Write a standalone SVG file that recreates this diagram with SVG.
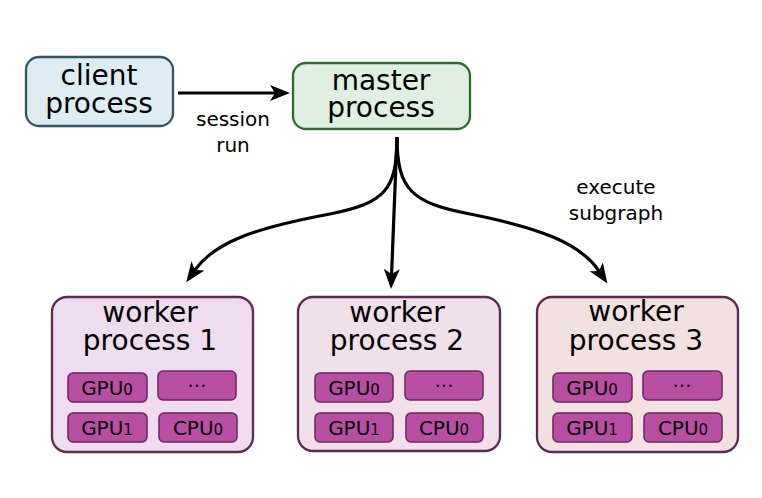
<svg xmlns="http://www.w3.org/2000/svg" width="762" height="498" viewBox="0 0 762 498">
<style>
text { font-family: "DejaVu Sans", Verdana, sans-serif; fill: #000; text-anchor: middle; }
.title { font-size: 28px; }
.label { font-size: 20px; }
.chip-t { font-size: 20px; }
.sub { font-size: 15px; }
.box { stroke-width: 2.3; }
.client { fill: #deedf3; stroke: #2f5566; }
.master { fill: #dff0e0; stroke: #2d6a30; }
.worker { stroke: #5c2a55; stroke-width: 2.3; }
.w1 { fill: #efdcef; }
.w2 { fill: #f1dfe9; }
.w3 { fill: #f3e1e1; }
.chip { fill: #b94fa2; stroke: #6a2660; stroke-width: 1.5; }
.conn { fill: none; stroke: #000; stroke-width: 3.2; }
</style>
<defs>
<marker id="arrow" markerUnits="userSpaceOnUse" viewBox="0 -9 20 18" markerWidth="20" markerHeight="18" refX="5" refY="0" orient="auto">
<path d="M0,-8 L20,0 L0,8 L5,0 z" fill="#000"/>
</marker>
</defs>
<rect width="762" height="498" fill="#fff"/>
<g id="connectors">
<path class="conn" d="M178,93 L275,93" marker-end="url(#arrow)"/>
<path class="conn" d="M397,137 L391.6,274" marker-end="url(#arrow)"/>
<path class="conn" d="M397,137 C397,190 385,203 330,214 C255,228 215,242 195,270" marker-end="url(#arrow)"/>
<path class="conn" d="M397,137 C397,190 412,203 470,214 C540,228 580,243 599,271" marker-end="url(#arrow)"/>
</g>
<g id="label-session">
<text class="label" x="233" y="126">session</text>
<text class="label" x="233" y="152">run</text>
</g>
<g id="label-execute">
<text class="label" x="616" y="194">execute</text>
<text class="label" x="616" y="220">subgraph</text>
</g>
<g id="client">
<rect class="box client" x="26" y="57" width="147" height="69" rx="13"/>
<text class="title" x="99" y="85">client</text>
<text class="title" x="99" y="113">process</text>
</g>
<g id="master">
<rect class="box master" x="293" y="63" width="177" height="66" rx="13"/>
<text class="title" x="381" y="90">master</text>
<text class="title" x="381" y="117">process</text>
</g>
<g id="worker1">
<rect class="worker w1" x="52" y="297" width="201" height="155" rx="15"/>
<text class="title" x="150" y="322">worker</text>
<text class="title" x="150" y="350">process 1</text>
<rect class="chip" x="68" y="373" width="79" height="29" rx="5"/>
<text class="chip-t" x="107" y="395">GPU<tspan class="sub">0</tspan></text>
<rect class="chip" x="158" y="371" width="78" height="29" rx="5"/>
<text class="chip-t" x="197" y="387">...</text>
<rect class="chip" x="68" y="413" width="79" height="29" rx="5"/>
<text class="chip-t" x="107" y="435">GPU<tspan class="sub">1</tspan></text>
<rect class="chip" x="159" y="413" width="78" height="29" rx="5"/>
<text class="chip-t" x="198" y="435">CPU<tspan class="sub">0</tspan></text>
</g>
<g id="worker2">
<rect class="worker w2" x="298" y="297" width="202" height="154" rx="15"/>
<text class="title" x="397" y="322">worker</text>
<text class="title" x="397" y="350">process 2</text>
<rect class="chip" x="315" y="373" width="78" height="29" rx="5"/>
<text class="chip-t" x="354" y="395">GPU<tspan class="sub">0</tspan></text>
<rect class="chip" x="405" y="371" width="78" height="29" rx="5"/>
<text class="chip-t" x="444" y="387">...</text>
<rect class="chip" x="315" y="413" width="78" height="29" rx="5"/>
<text class="chip-t" x="354" y="435">GPU<tspan class="sub">1</tspan></text>
<rect class="chip" x="406" y="413" width="77" height="29" rx="5"/>
<text class="chip-t" x="444" y="435">CPU<tspan class="sub">0</tspan></text>
</g>
<g id="worker3">
<rect class="worker w3" x="537" y="297" width="201" height="155" rx="15"/>
<text class="title" x="636" y="321">worker</text>
<text class="title" x="636" y="350">process 3</text>
<rect class="chip" x="553" y="373" width="79" height="29" rx="5"/>
<text class="chip-t" x="592" y="395">GPU<tspan class="sub">0</tspan></text>
<rect class="chip" x="643" y="371" width="79" height="29" rx="5"/>
<text class="chip-t" x="682" y="387">...</text>
<rect class="chip" x="553" y="413" width="79" height="29" rx="5"/>
<text class="chip-t" x="592" y="435">GPU<tspan class="sub">1</tspan></text>
<rect class="chip" x="644" y="413" width="78" height="29" rx="5"/>
<text class="chip-t" x="683" y="435">CPU<tspan class="sub">0</tspan></text>
</g>
</svg>
